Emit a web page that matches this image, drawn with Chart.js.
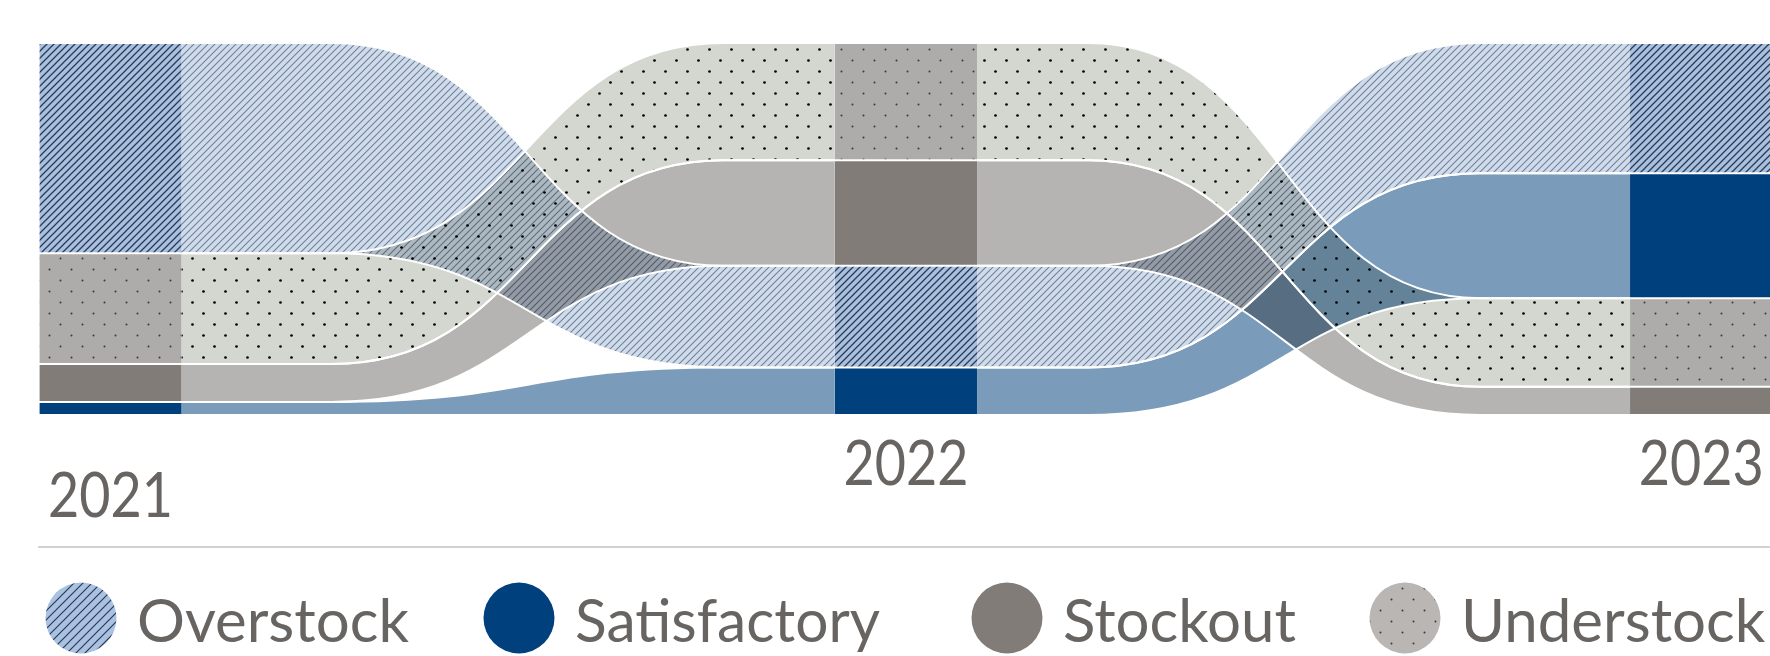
<!DOCTYPE html>
<html>
<head>
<meta charset="utf-8">
<title>Stock status 2021–2023</title>
<script src="https://cdn.jsdelivr.net/npm/chart.js@4.4.1/dist/chart.umd.min.js"></script>
<style>
  html, body { margin: 0; padding: 0; background: #fff; }
  #wrap { width: 1770px; height: 656px; overflow: hidden; }
</style>
</head>
<body>
<div id="wrap"><canvas id="chart" width="1770" height="656"></canvas></div>
<script>
// Share of items per stock status, by year (%)
const years = [2021, 2022, 2023];
const categories = ["Overstock", "Satisfactory", "Stockout", "Understock"];
const overstock = [56.5, 27.3, 35.0];
const satisfactory = [3.5, 12.8, 33.6];
const stockout = [10.2, 28.4, 7.6];
const understock = [29.8, 31.5, 23.8];
const seriesValues = [overstock, satisfactory, stockout, understock];

const textColor = "#686462";

// ribbon chart: every year is re-ranked, biggest on top
function stackRanges() {
    const ranges = categories.map(() => []);
    years.forEach((yr, j) => {
        const order = categories.map((c, i) => i)
            .sort((a, b) => seriesValues[b][j] - seriesValues[a][j]);
        let acc = 0;
        order.forEach((i) => {
            ranges[i][j] = [acc, acc + seriesValues[i][j]];
            acc += seriesValues[i][j];
        });
    });
    return ranges;
}
const ranges = stackRanges();

// fill patterns
function hatch(bg, line, width, s) {
    const c = document.createElement("canvas");
    c.width = s;
    c.height = s;
    const g = c.getContext("2d");
    g.fillStyle = bg;
    g.fillRect(0, 0, s, s);
    g.strokeStyle = line;
    g.lineWidth = width;
    g.beginPath();
    g.moveTo(-1, s + 1); g.lineTo(s + 1, -1);
    g.moveTo(-1, 1); g.lineTo(1, -1);
    g.moveTo(s - 1, s + 1); g.lineTo(s + 1, s - 1);
    g.stroke();
    return g.createPattern(c, "repeat");
}

function dots(bg, dot, r) {
    const c = document.createElement("canvas");
    c.width = 22;
    c.height = 22;
    const g = c.getContext("2d");
    g.fillStyle = bg;
    g.fillRect(0, 0, 22, 22);
    g.fillStyle = dot;
    [[5.5, 5.5], [16.5, 16.5]].forEach(([x, y]) => {
        g.beginPath();
        g.arc(x, y, r, 0, Math.PI * 2);
        g.fill();
    });
    return g.createPattern(c, "repeat");
}

const nodeFill = [
    hatch("#a8c1e3", "#2e3a4c", 1.3, 7),
    "#00417d",
    "#827c79",
    dots("#adacaa", "#3a3a3a", 1.0)
];
const ribbonFill = [
    hatch("#cfdcee", "#76818f", 1.1, 7),
    "#7a9cba",
    "#b5b4b2",
    dots("#d4d6d0", "#000000", 1.35)
];
const legendFill = [
    hatch("#a9c2e4", "#2e3a4c", 1.2, 9),
    "#00417d",
    "#827c79",
    dots("#bab6b4", "#3a3a3a", 1.0)
];

// S-shaped edge: flat run, bezier, flat run (fromFlat / toFlat are shares of the gap)
function edge(ctx, xFrom, yFrom, xTo, yTo, fromFlat, toFlat) {
    const d = xTo - xFrom;
    const xa = xFrom + d * fromFlat;
    const xb = xTo - d * toFlat;
    const xm = (xa + xb) / 2;
    ctx.lineTo(xa, yFrom);
    ctx.bezierCurveTo(xm, yFrom, xm, yTo, xb, yTo);
    ctx.lineTo(xTo, yTo);
}

const ribbons = {
    id: "ribbons",
    beforeDatasetsDraw(chart) {
        const { ctx, scales: { y } } = chart;
        const paths = [];
        categories.forEach((name, i) => {
            const bars = chart.getDatasetMeta(i).data;
            for (let j = 0; j < years.length - 1; j++) {
                const a = bars[j];
                const b = bars[j + 1];
                // curves lean a little toward the middle year
                const outer = j === 0 ? 0.23 : 0.17;
                const inner = j === 0 ? 0.17 : 0.23;
                paths.push({
                    i, outer, inner,
                    x0: a.x + a.width / 2,
                    x1: b.x - b.width / 2,
                    t0: y.getPixelForValue(ranges[i][j][0]),
                    t1: y.getPixelForValue(ranges[i][j + 1][0]),
                    b0: y.getPixelForValue(ranges[i][j][1]),
                    b1: y.getPixelForValue(ranges[i][j + 1][1])
                });
            }
        });

        ctx.save();
        ctx.globalCompositeOperation = "multiply";
        paths.forEach((p) => {
            ctx.beginPath();
            ctx.moveTo(p.x0, p.t0);
            edge(ctx, p.x0, p.t0, p.x1, p.t1, p.outer, p.inner);
            ctx.lineTo(p.x1, p.b1);
            edge(ctx, p.x1, p.b1, p.x0, p.b0, p.inner, p.outer);
            ctx.closePath();
            ctx.fillStyle = ribbonFill[p.i];
            ctx.fill();
        });
        ctx.restore();

        ctx.save();
        ctx.strokeStyle = "#ffffff";
        ctx.lineWidth = 2;
        paths.forEach((p) => {
            ctx.beginPath();
            ctx.moveTo(p.x0, p.t0);
            edge(ctx, p.x0, p.t0, p.x1, p.t1, p.outer, p.inner);
            ctx.stroke();
            ctx.beginPath();
            ctx.moveTo(p.x0, p.b0);
            edge(ctx, p.x0, p.b0, p.x1, p.b1, p.outer, p.inner);
            ctx.stroke();
        });
        ctx.restore();
    }
};

// year labels, divider and legend under the plot
const footer = {
    id: "footer",
    afterDraw(chart) {
        const { ctx, chartArea, scales: { x } } = chart;
        const bottom = chartArea.bottom;
        ctx.save();

        ctx.fillStyle = textColor;
        ctx.font = "61px Lato";
        ctx.textAlign = "center";
        ctx.textBaseline = "alphabetic";
        years.forEach((yr, j) => {
            const base = j === 0 ? bottom + 102 : bottom + 70;
            ctx.fillText(String(yr), x.getPixelForValue(yr), base, 125);
        });

        ctx.strokeStyle = "#c2c2c2";
        ctx.lineWidth = 1.5;
        ctx.beginPath();
        ctx.moveTo(38, bottom + 132);
        ctx.lineTo(chartArea.right, bottom + 132);
        ctx.stroke();

        const cy = bottom + 203;
        const centers = [81, 519, 1007, 1405];
        const maxW = [280, 305, 240, 306];
        ctx.font = "60px Lato";
        ctx.textAlign = "left";
        categories.forEach((name, i) => {
            ctx.beginPath();
            ctx.arc(centers[i], cy, 35.5, 0, Math.PI * 2);
            ctx.fillStyle = legendFill[i];
            ctx.fill();
            ctx.fillStyle = textColor;
            ctx.fillText(name, centers[i] + 56, cy + 24, maxW[i]);
        });
        ctx.restore();
    }
};

const datasets = categories.map((name, i) => ({
    label: name,
    data: years.map((yr, j) => ({ x: yr, y: ranges[i][j] })),
    backgroundColor: nodeFill[i],
    borderColor: "#ffffff",
    borderWidth: { top: 1, bottom: 1, left: 0, right: 0 },
    borderSkipped: false,
    grouped: false,
    categoryPercentage: 1,
    barPercentage: 0.179
}));

new Chart(document.getElementById("chart"), {
    type: "bar",
    data: { datasets },
    options: {
        responsive: false,
        animation: false,
        layout: { padding: { top: 43, bottom: 241, left: 0, right: 0 } },
        plugins: {
            legend: { display: false },
            tooltip: { enabled: false }
        },
        scales: {
            x: {
                type: "linear",
                min: 2020.861,
                max: 2023.0865,
                offset: false,
                display: false,
                afterBuildTicks: (axis) => {
                    axis.ticks = years.map((v) => ({ value: v }));
                }
            },
            y: { min: 0, max: 100, reverse: true, display: false }
        }
    },
    plugins: [ribbons, footer]
});
</script>
</body>
</html>
